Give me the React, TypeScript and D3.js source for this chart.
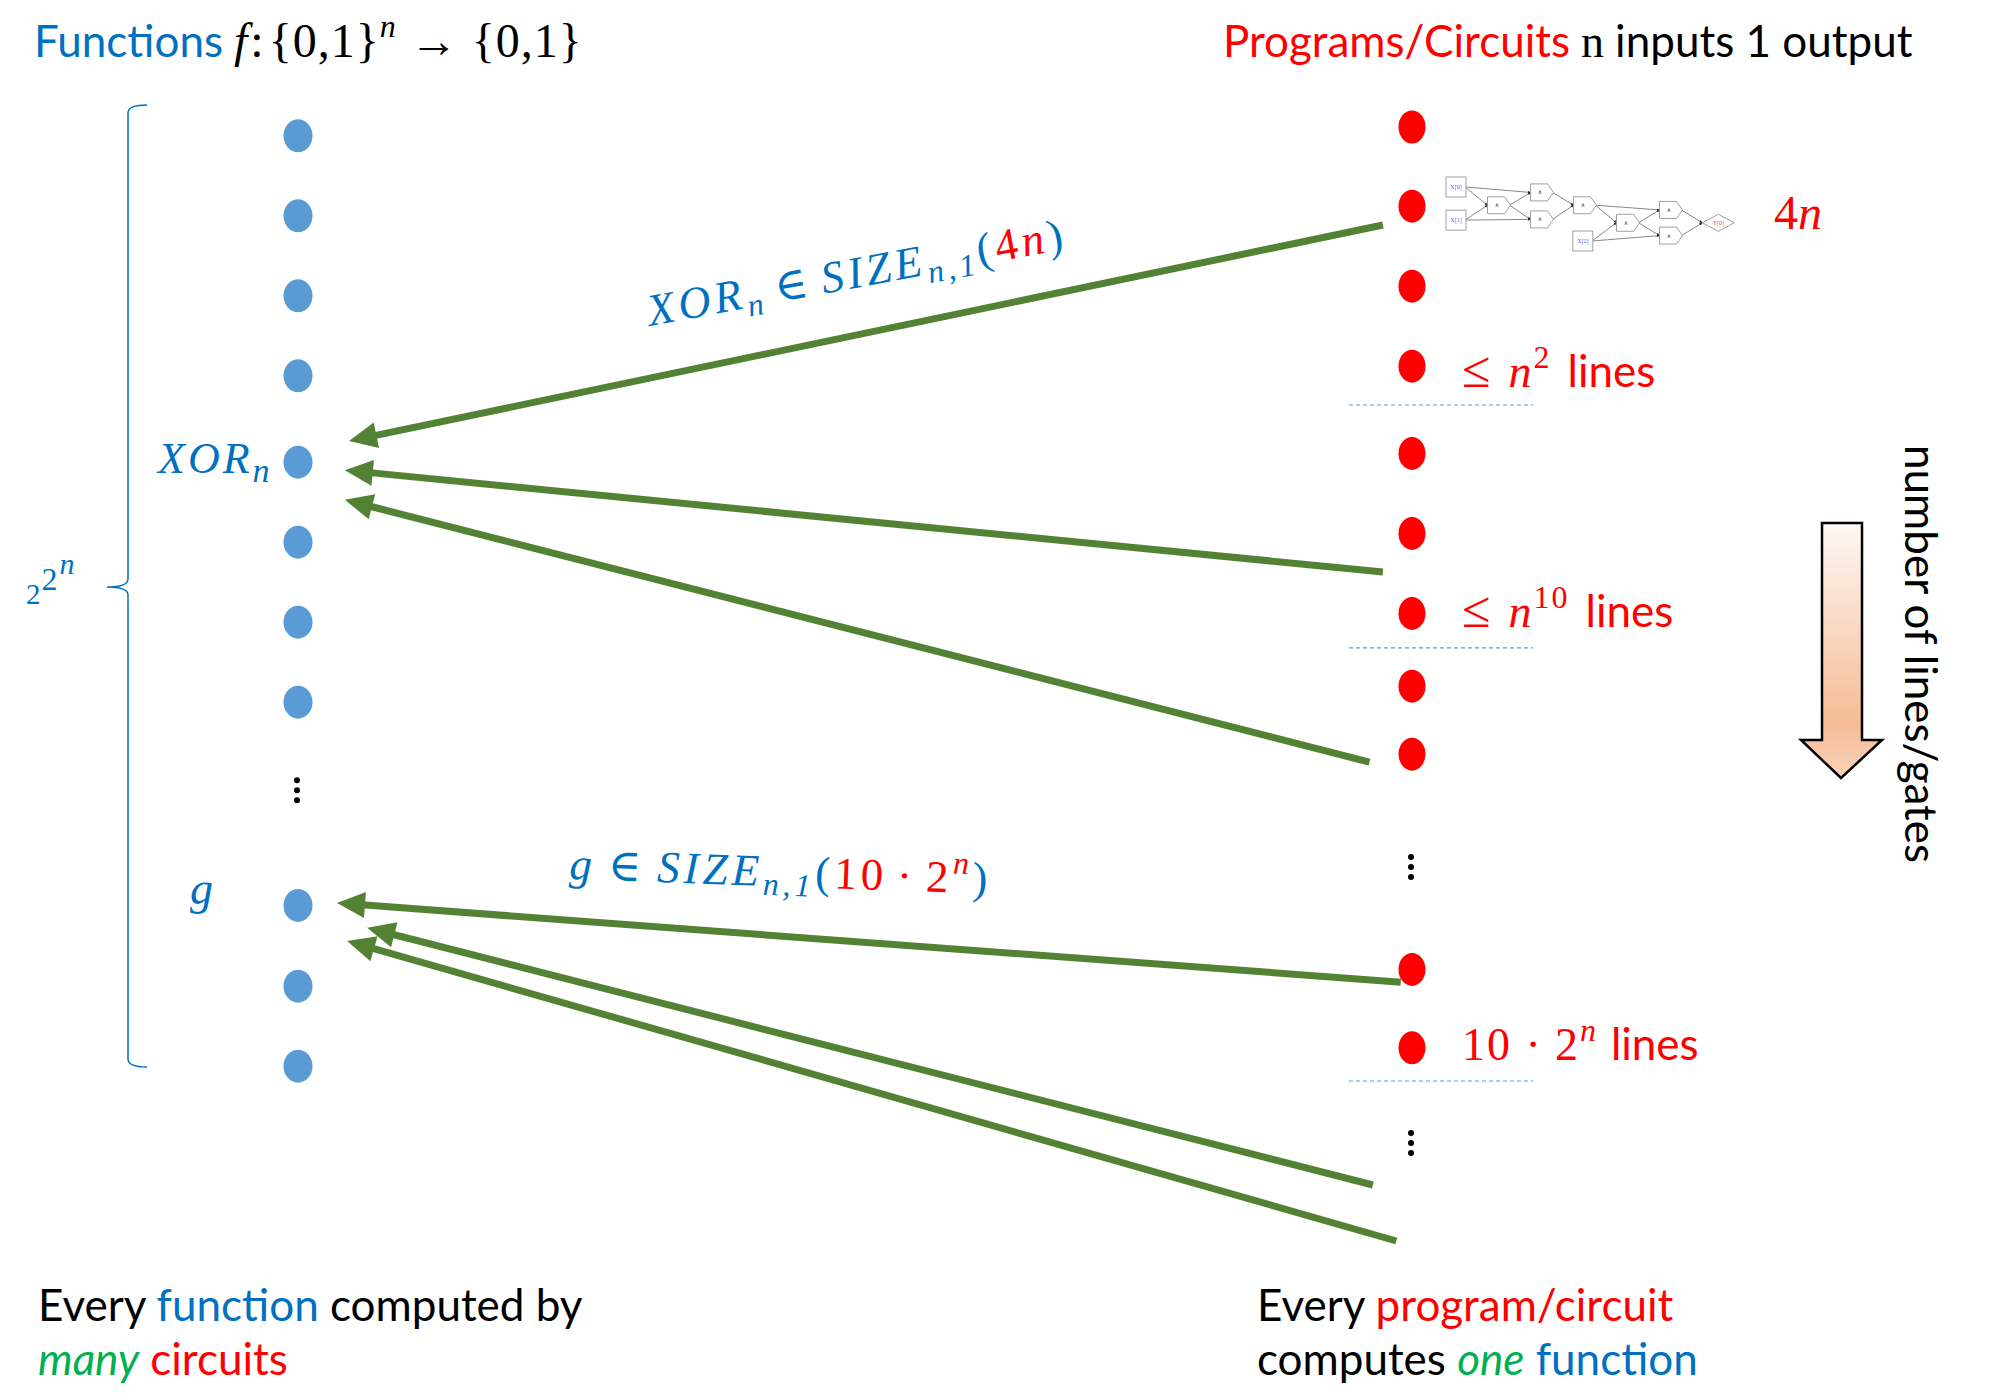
import React from 'react';
import * as d3 from 'd3';

const W = 1989;
const H = 1400;

const BLUE_TEXT = '#0070C0';
const BLUE_DOT = '#5B9BD5';
const RED = '#FF0000';
const GREEN = '#548235';
const BRIGHT_GREEN = '#00B050';

const SANS = 'Lato, "Open Sans", sans-serif';
const SERIF = '"Liberation Serif", "DejaVu Serif", serif';

// vertical slots (row units) of the dots in each column
const functionSlots = [0.11, 1.11, 2.11, 3.11, 4.19, 5.19, 6.19, 7.19, 9.73, 10.74, 11.74];
const functionEllipsis = [8.29];
const programSlots = [0, 0.99, 1.99, 2.99, 4.08, 5.08, 6.08, 6.99, 7.84, 10.53, 11.51];
const programEllipsis = [9.25, 12.7];

// arrows: circuit side (col, slot) -> function side (col, slot)
const arrows = [
  { c0: 0.973, s0: 1.225, c1: 0.0457, s1: 3.925 },
  { c0: 0.973, s0: 5.5625, c1: 0.042, s1: 4.29 },
  { c0: 0.961, s0: 7.94, c1: 0.042, s1: 4.66 },
  { c0: 0.989, s0: 10.69, c1: 0.035, s1: 9.7 },
  { c0: 0.964, s0: 13.225, c1: 0.062, s1: 10.01 },
  { c0: 0.985, s0: 13.925, c1: 0.044, s1: 10.175 },
];

// size tiers on the circuit side
const tiers = [
  { pre: '≤', base: 'n', exp: '2', slot: 3.25, sep: 3.475 },
  { pre: '≤', base: 'n', exp: '10', slot: 6.25, sep: 6.51 },
  { pre: '10 ·', base: '2', exp: 'n', slot: 11.66, sep: 11.925 },
];

// small example circuit (layer, lane)
const circuitNodes = [
  { id: 'x0', kind: 'in', label: 'X[0]', layer: 0, lane: 0 },
  { id: 'x1', kind: 'in', label: 'X[1]', layer: 0, lane: 2.45 },
  { id: 'g1', kind: 'gate', label: '∧', layer: 1, lane: 1.35 },
  { id: 'g2', kind: 'gate', label: '∧', layer: 2, lane: 0.4 },
  { id: 'g3', kind: 'gate', label: '∧', layer: 2, lane: 2.4 },
  { id: 'g4', kind: 'gate', label: '∧', layer: 3, lane: 1.35 },
  { id: 'x2', kind: 'in', label: 'X[2]', layer: 2.95, lane: 4 },
  { id: 'g5', kind: 'gate', label: '∧', layer: 4, lane: 2.65 },
  { id: 'g6', kind: 'gate', label: '∧', layer: 5, lane: 1.7 },
  { id: 'g7', kind: 'gate', label: '∧', layer: 5, lane: 3.6 },
  { id: 'y0', kind: 'out', label: 'Y[0]', layer: 6.1, lane: 2.65 },
];
const circuitEdges = [
  ['x0', 'g2'], ['x0', 'g1'], ['x1', 'g1'], ['x1', 'g3'],
  ['g1', 'g2'], ['g1', 'g3'], ['g2', 'g4'], ['g3', 'g4'],
  ['g4', 'g6'], ['g4', 'g5'], ['x2', 'g5'], ['x2', 'g7'],
  ['g5', 'g6'], ['g5', 'g7'], ['g6', 'y0'], ['g7', 'y0'],
];

const col = d3.scaleLinear().domain([0, 1]).range([298, 1413]);
const row = d3.scaleLinear().domain([0, 1]).range([127, 207]);
const cx = d3.scaleLinear().domain([0, 6]).range([1456, 1714]);
const cy = d3.scaleLinear().domain([0, 4]).range([187, 241]);

const nodeSize = (kind: string) =>
  kind === 'in' ? [20, 20] : kind === 'out' ? [32, 17] : [23, 17];

function Arrow({ x0, y0, x1, y1 }: { x0: number; y0: number; x1: number; y1: number }) {
  const len = Math.hypot(x1 - x0, y1 - y0);
  const ux = (x1 - x0) / len;
  const uy = (y1 - y0) / len;
  const HL = 28;
  const HW = 13;
  const bx = x1 - ux * HL;
  const by = y1 - uy * HL;
  const px = -uy;
  const py = ux;
  return (
    <g>
      <line x1={x0} y1={y0} x2={bx + ux * 3} y2={by + uy * 3} stroke={GREEN} strokeWidth={7} />
      <polygon
        points={`${x1},${y1} ${bx + px * HW},${by + py * HW} ${bx - px * HW},${by - py * HW}`}
        fill={GREEN}
      />
    </g>
  );
}

function Circuit() {
  const byId = new Map(circuitNodes.map((n) => [n.id, n]));
  return (
    <g>
      <defs>
        <marker id="cArrow" viewBox="0 0 10 10" refX="10" refY="5" markerWidth="4" markerHeight="4" orient="auto">
          <path d="M0,0 L10,5 L0,10 Z" fill="#222" />
        </marker>
      </defs>
      {circuitEdges.map(([a, b]) => {
        const s = byId.get(a)!;
        const t = byId.get(b)!;
        const [sw] = nodeSize(s.kind);
        const [tw] = nodeSize(t.kind);
        return (
          <line
            key={`${a}-${b}`}
            x1={cx(s.layer) + sw / 2 - 1}
            y1={cy(s.lane)}
            x2={cx(t.layer) - tw / 2}
            y2={cy(t.lane)}
            stroke="#555"
            strokeWidth={0.7}
            markerEnd="url(#cArrow)"
          />
        );
      })}
      {circuitNodes.map((n) => {
        const x = cx(n.layer);
        const y = cy(n.lane);
        const [w, h] = nodeSize(n.kind);
        let shape;
        if (n.kind === 'in') {
          shape = <rect x={x - w / 2} y={y - h / 2} width={w} height={h} fill="#fff" stroke="#888" strokeWidth={0.8} />;
        } else if (n.kind === 'out') {
          shape = (
            <polygon
              points={`${x - w / 2},${y} ${x},${y - h / 2} ${x + w / 2},${y} ${x},${y + h / 2}`}
              fill="#fff"
              stroke="#888"
              strokeWidth={0.8}
            />
          );
        } else {
          shape = (
            <polygon
              points={`${x - w / 2},${y - h / 2} ${x + w / 2 - 6},${y - h / 2} ${x + w / 2},${y} ${x + w / 2 - 6},${y + h / 2} ${x - w / 2},${y + h / 2}`}
              fill="#fff"
              stroke="#888"
              strokeWidth={0.8}
            />
          );
        }
        return (
          <g key={n.id}>
            {shape}
            <text
              x={n.kind === 'gate' ? x - 2 : x}
              y={y + 2}
              textAnchor="middle"
              fontFamily={SERIF}
              fontSize={6}
              fill={n.kind === 'in' ? '#5a5aff' : n.kind === 'out' ? '#e05050' : '#333'}
            >
              {n.label}
            </text>
          </g>
        );
      })}
    </g>
  );
}

export default function App() {
  const funcX = col(0);
  const progX = col(1) - 1;
  const braceTop = row(-0.275);
  const braceBot = row(11.75);
  const braceMid = row(5.75);

  return (
    <svg
      width={W}
      height={H}
      viewBox={`0 0 ${W} ${H}`}
      style={{ position: 'absolute', left: 0, top: 0, background: '#fff' }}
    >
      <defs>
        <linearGradient id="downGrad" x1="0" y1="0" x2="0" y2="1">
          <stop offset="0%" stopColor="#fef8f5" />
          <stop offset="78%" stopColor="#f5bc96" />
          <stop offset="100%" stopColor="#f8d3ba" />
        </linearGradient>
      </defs>
      <rect width={W} height={H} fill="#fff" />

      {/* titles */}
      <text x={34} y={57} fontSize={44}>
        <tspan fontFamily={SANS} fill={BLUE_TEXT}>Functions</tspan>
        <tspan dx={11} fontFamily={SERIF} fontStyle="italic" fontSize={48}>f</tspan>
        <tspan fontFamily={SERIF} fontSize={48} dx={3}>:</tspan>
        <tspan fontFamily={SERIF} fontSize={48} dx={5} letterSpacing={1}>{'{0,1}'}</tspan>
        <tspan fontFamily={SERIF} fontStyle="italic" fontSize={32} dy={-20}>n</tspan>
        <tspan fontFamily={SERIF} fontSize={48} dy={20} dx={14}>→</tspan>
        <tspan fontFamily={SERIF} fontSize={48} dx={14} letterSpacing={1}>{'{0,1}'}</tspan>
      </text>
      <text x={1223} y={57} fontSize={44}>
        <tspan fontFamily={SANS} fill={RED}>Programs/Circuits</tspan>
        <tspan fontFamily={SERIF} fontSize={46} dx={11} fill="#000">n</tspan>
        <tspan fontFamily={SANS} dx={11} fill="#000">inputs 1 output</tspan>
      </text>

      {/* brace with 2^(2^n) */}
      <path
        d={`M147,${braceTop} Q128,${braceTop} 128,${braceTop + 8} L128,${braceMid - 8} Q128,${braceMid} 107,${braceMid} Q128,${braceMid} 128,${braceMid + 8} L128,${braceBot - 8} Q128,${braceBot} 147,${braceBot}`}
        fill="none"
        stroke={BLUE_TEXT}
        strokeWidth={1.5}
      />
      <text x={26} y={604} fontFamily={SERIF} fill={BLUE_TEXT} fontSize={29}>
        <tspan>2</tspan>
        <tspan fontSize={32} dy={-14} dx={1}>2</tspan>
        <tspan fontSize={30} dy={-16} dx={2} fontStyle="italic">n</tspan>
      </text>

      {/* function dots */}
      {functionSlots.map((s, i) => (
        <ellipse key={`f${i}`} cx={funcX} cy={row(s)} rx={14.5} ry={16.5} fill={BLUE_DOT} />
      ))}
      {functionEllipsis.map((s, i) =>
        [-10, 0, 10].map((d) => <circle key={`fe${i}${d}`} cx={funcX - 1} cy={row(s) + d} r={3} fill="#000" />)
      )}

      {/* program dots */}
      {programSlots.map((s, i) => (
        <ellipse key={`p${i}`} cx={progX} cy={row(s)} rx={13.5} ry={16.5} fill={RED} />
      ))}
      {programEllipsis.map((s, i) =>
        [-10, 0, 10].map((d) => <circle key={`pe${i}${d}`} cx={progX - 1} cy={row(s) + d} r={3} fill="#000" />)
      )}

      {/* tier separators and labels */}
      {tiers.map((t, i) => {
        const isLe = t.pre === '≤';
        return (
          <g key={`t${i}`}>
            <line
              x1={col(0.9426)}
              x2={col(1.1076)}
              y1={row(t.sep)}
              y2={row(t.sep)}
              stroke={BLUE_DOT}
              strokeWidth={1.2}
              strokeDasharray="4 3"
            />
            <text x={col(1.044)} y={row(t.slot)} fontSize={46} fill={RED}>
              <tspan fontFamily={SERIF} fontSize={isLe ? 52 : 46} letterSpacing={2}>{t.pre}</tspan>
              <tspan fontFamily={SERIF} dx={isLe ? 16 : 12} fontStyle={t.base === 'n' ? 'italic' : 'normal'}>
                {t.base}
              </tspan>
              <tspan
                fontFamily={SERIF}
                fontStyle={t.exp === 'n' ? 'italic' : 'normal'}
                fontSize={32}
                dy={-19}
                dx={2}
                letterSpacing={2}
              >
                {t.exp}
              </tspan>
              <tspan fontFamily={SANS} fontSize={44} dy={19} dx={isLe ? 16 : 13}>lines</tspan>
            </text>
          </g>
        );
      })}

      {/* example circuit of size 4n */}
      <Circuit />
      <text x={col(1.3238)} y={row(1.275)} fontFamily={SERIF} fontSize={48} fill={RED}>
        <tspan>4</tspan>
        <tspan fontStyle="italic">n</tspan>
      </text>

      {/* function labels */}
      <text x={158} y={473} fontFamily={SERIF} fontStyle="italic" fontSize={44} fill={BLUE_TEXT} letterSpacing={3}>
        <tspan>XOR</tspan>
        <tspan fontSize={34} dy={9}>n</tspan>
      </text>
      <text x={190} y={904} fontFamily={SERIF} fontStyle="italic" fontSize={46} fill={BLUE_TEXT}>
        g
      </text>

      {/* arrows */}
      {arrows.map((a, i) => (
        <Arrow key={`a${i}`} x0={col(a.c0)} y0={row(a.s0)} x1={col(a.c1)} y1={row(a.s1)} />
      ))}

      {/* arrow labels */}
      <text
        transform="translate(650,326) rotate(-10.5)"
        fontFamily={SERIF}
        fontSize={45}
        fill={BLUE_TEXT}
        letterSpacing={4}
      >
        <tspan fontStyle="italic">XOR</tspan>
        <tspan fontStyle="italic" fontSize={32} dy={9}>n</tspan>
        <tspan dy={-9} dx={10}>∈</tspan>
        <tspan fontStyle="italic" dx={10}>SIZE</tspan>
        <tspan fontStyle="italic" fontSize={32} dy={9}>n,1</tspan>
        <tspan dy={-9}>(</tspan>
        <tspan fill={RED}>4</tspan>
        <tspan fill={RED} fontStyle="italic">n</tspan>
        <tspan>)</tspan>
      </text>
      <text
        transform="translate(569,879) rotate(2)"
        fontFamily={SERIF}
        fontSize={45}
        fill={BLUE_TEXT}
        letterSpacing={4}
      >
        <tspan fontStyle="italic">g</tspan>
        <tspan dx={12}>∈</tspan>
        <tspan fontStyle="italic" dx={12}>SIZE</tspan>
        <tspan fontStyle="italic" fontSize={32} dy={9}>n,1</tspan>
        <tspan dy={-9}>(</tspan>
        <tspan fill={RED}>10</tspan>
        <tspan fill={RED} dx={10}>·</tspan>
        <tspan fill={RED} dx={10}>2</tspan>
        <tspan fill={RED} fontStyle="italic" fontSize={32} dy={-19}>n</tspan>
        <tspan dy={19}>)</tspan>
      </text>

      {/* growth arrow */}
      <path
        d="M1822,523 L1862,523 L1862,740 L1882,740 L1841,778 L1801,740 L1822,740 Z"
        fill="url(#downGrad)"
        stroke="#000"
        strokeWidth={2.5}
        strokeLinejoin="miter"
      />
      <text transform="translate(1905,445) rotate(90)" fontFamily={SANS} fontSize={44} fill="#000">
        number of lines/gates
      </text>

      {/* bottom captions */}
      <text x={38} y={1321} fontFamily={SANS} fontSize={44} fill="#000">
        <tspan>Every </tspan>
        <tspan fill={BLUE_TEXT}>function</tspan>
        <tspan> computed by</tspan>
      </text>
      <text x={38} y={1375} fontFamily={SANS} fontSize={44}>
        <tspan fill={BRIGHT_GREEN} fontStyle="italic">many</tspan>
        <tspan fill={RED}> circuits</tspan>
      </text>
      <text x={1257} y={1321} fontFamily={SANS} fontSize={44} fill="#000">
        <tspan>Every </tspan>
        <tspan fill={RED}>program/circuit</tspan>
      </text>
      <text x={1257} y={1375} fontFamily={SANS} fontSize={44} fill="#000">
        <tspan>computes </tspan>
        <tspan fill={BRIGHT_GREEN} fontStyle="italic">one</tspan>
        <tspan fill={BLUE_TEXT}> function</tspan>
      </text>
    </svg>
  );
}
